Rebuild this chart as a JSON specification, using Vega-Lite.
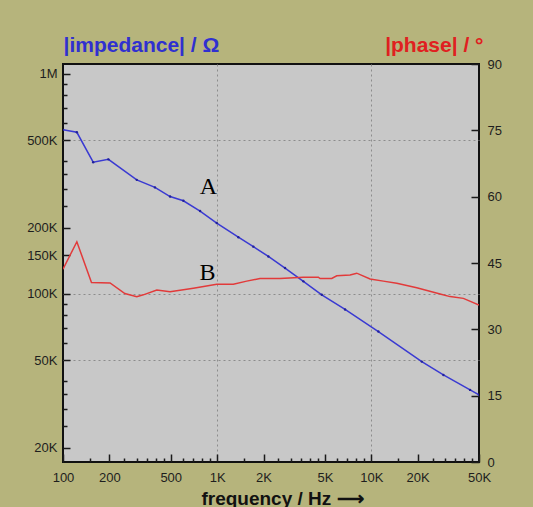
{
  "$schema": "https://vega.github.io/schema/vega-lite/v6.json",
  "autosize": {"type": "none"},
  "width": 416,
  "height": 398,
  "padding": {"left": 63, "top": 64, "right": 54, "bottom": 45},
  "background": "#b6b47c",
  "config": {
    "view": {"fill": "#c8c8c8", "stroke": "#111111", "strokeWidth": 2},
    "axis": {
      "domain": false,
      "zindex": 1,
      "ticks": true,
      "tickColor": "#1a1a1a",
      "tickWidth": 1.5,
      "labelFont": "Liberation Sans",
      "labelFontSize": 13,
      "labelColor": "#1e1e1e",
      "labelOverlap": false,
      "labelBound": false,
      "gridColor": "#8c8c8c",
      "gridDash": [2, 3],
      "gridWidth": 1,
      "titleFont": "Liberation Sans",
      "titleFontWeight": "bold"
    }
  },
  "datasets": {
    "imp": [
      {"freq": 100, "imp": 557000},
      {"freq": 123, "imp": 543000},
      {"freq": 157, "imp": 397000},
      {"freq": 197, "imp": 409000},
      {"freq": 301, "imp": 330000},
      {"freq": 395, "imp": 305000},
      {"freq": 495, "imp": 277000},
      {"freq": 604, "imp": 265000},
      {"freq": 775, "imp": 238000},
      {"freq": 994, "imp": 210000},
      {"freq": 1373, "imp": 181000},
      {"freq": 1718, "imp": 164000},
      {"freq": 2150, "imp": 148000},
      {"freq": 2758, "imp": 131000},
      {"freq": 3627, "imp": 114000},
      {"freq": 4773, "imp": 99000},
      {"freq": 6761, "imp": 85000},
      {"freq": 11120, "imp": 67400},
      {"freq": 21270, "imp": 49200},
      {"freq": 29380, "imp": 42800},
      {"freq": 43760, "imp": 36600},
      {"freq": 50000, "imp": 34700}
    ],
    "phase": [
      {"freq": 100, "phase": 43.6},
      {"freq": 123, "phase": 49.8},
      {"freq": 153, "phase": 40.6},
      {"freq": 202, "phase": 40.5},
      {"freq": 252, "phase": 38.1},
      {"freq": 301, "phase": 37.4},
      {"freq": 332, "phase": 37.8},
      {"freq": 406, "phase": 38.9},
      {"freq": 495, "phase": 38.5},
      {"freq": 701, "phase": 39.3},
      {"freq": 994, "phase": 40.2},
      {"freq": 1274, "phase": 40.2},
      {"freq": 1556, "phase": 40.9},
      {"freq": 1898, "phase": 41.5},
      {"freq": 2559, "phase": 41.5},
      {"freq": 3627, "phase": 41.8},
      {"freq": 4536, "phase": 41.8},
      {"freq": 4653, "phase": 41.5},
      {"freq": 5540, "phase": 41.5},
      {"freq": 5971, "phase": 42.1},
      {"freq": 7286, "phase": 42.3},
      {"freq": 8050, "phase": 42.7},
      {"freq": 9824, "phase": 41.4},
      {"freq": 11980, "phase": 40.9},
      {"freq": 14640, "phase": 40.4},
      {"freq": 19730, "phase": 39.4},
      {"freq": 27960, "phase": 38.0},
      {"freq": 32470, "phase": 37.4},
      {"freq": 39600, "phase": 37.0},
      {"freq": 50000, "phase": 35.5}
    ],
    "labels": [
      {"freq": 877, "imp": 307000, "label": "A"},
      {"freq": 866, "imp": 124600, "label": "B"}
    ]
  },
  "layer": [
    {
      "data": {"name": "imp"},
      "mark": {"type": "line", "opacity": 0, "clip": true},
      "encoding": {
        "x": {
          "field": "freq", "type": "quantitative",
          "scale": {"type": "log", "domain": [100, 50000], "nice": false},
          "axis": {
            "orient": "bottom",
            "values": [1000, 10000],
            "ticks": false,
            "labels": false,
            "grid": true,
            "title": null
          }
        },
        "y": {
          "field": "imp", "type": "quantitative",
          "scale": {"type": "log", "domain": [17200, 1110000], "nice": false},
          "axis": {
            "orient": "left",
            "values": [50000, 100000, 500000],
            "ticks": false,
            "labels": false,
            "grid": true,
            "title": null
          }
        }
      }
    },
    {
      "data": {"name": "imp"},
      "mark": {"type": "line", "color": "#3a3ad2", "strokeWidth": 1.5, "clip": true, "point": {"filled": true, "size": 6, "color": "#22229a"}},
      "encoding": {
        "x": {
          "field": "freq", "type": "quantitative",
          "scale": {"type": "log", "domain": [100, 50000], "nice": false},
          "axis": {
            "orient": "bottom",
            "offset": -8,
            "values": [100, 200, 500, 1000, 2000, 5000, 10000, 20000, 50000],
            "labelExpr": "datum.value >= 1000 ? format(datum.value/1000, 'd') + 'K' : format(datum.value, 'd')",
            "tickSize": 8,
            "labelPadding": 9,
            "labelBaseline": "top",
            "labelFlush": false,
            "grid": false,
            "title": "frequency / Hz ⟶",
            "titleFontSize": 19,
            "titleColor": "#111111",
            "titleX": 219,
            "titleY": 44,
            "titleAlign": "center",
            "titleBaseline": "middle"
          }
        },
        "y": {
          "field": "imp", "type": "quantitative",
          "scale": {"type": "log", "domain": [17200, 1110000], "nice": false},
          "axis": {
            "orient": "left",
            "offset": -7,
            "values": [20000, 50000, 100000, 150000, 200000, 500000, 1000000],
            "labelExpr": "datum.value >= 1000000 ? '1M' : format(datum.value/1000, 'd') + 'K'",
            "tickSize": 7,
            "labelPadding": 6,
            "grid": false,
            "title": "|impedance| / Ω",
            "titleColor": "#3030d0",
            "titleFontSize": 21,
            "titleAngle": 0,
            "titleAlign": "left",
            "titleBaseline": "middle",
            "titleX": -7,
            "titleY": -19
          }
        }
      }
    },
    {
      "data": {"name": "phase"},
      "mark": {"type": "line", "color": "#e23a3a", "strokeWidth": 1.5, "clip": true},
      "encoding": {
        "x": {
          "field": "freq", "type": "quantitative",
          "scale": {"type": "log", "domain": [100, 50000], "nice": false},
          "axis": {
            "orient": "bottom",
            "offset": -4,
            "values": [150,250,300,350,400,450,600,700,800,900,1500,2500,3000,3500,4000,4500,6000,7000,8000,9000,15000,25000,30000,35000,40000,45000],
            "tickSize": 4,
            "labels": false,
            "grid": false,
            "title": null
          }
        },
        "y": {
          "field": "phase", "type": "quantitative",
          "scale": {"domain": [0, 90], "nice": false, "zero": true},
          "axis": {
            "orient": "right",
            "offset": -8,
            "values": [0, 15, 30, 45, 60, 75, 90],
            "tickSize": 8,
            "labelPadding": 8,
            "grid": false,
            "title": "|phase|   /   °",
            "titleColor": "#e02020",
            "titleFontSize": 21,
            "titleAngle": 0,
            "titleAlign": "right",
            "titleBaseline": "middle",
            "titleX": 12,
            "titleY": -19
          }
        }
      }
    },
    {
      "data": {"name": "labels"},
      "mark": {"type": "text", "font": "Liberation Serif", "fontSize": 24, "color": "#000000"},
      "encoding": {
        "x": {"field": "freq", "type": "quantitative", "scale": {"type": "log", "domain": [100, 50000], "nice": false}, "axis": null},
        "y": {
          "field": "imp", "type": "quantitative",
          "scale": {"type": "log", "domain": [17200, 1110000], "nice": false},
          "axis": {
            "orient": "left",
            "offset": -4,
            "values": [25000,30000,35000,40000,60000,70000,80000,90000,250000,300000,350000,400000,600000,700000,800000,900000],
            "tickSize": 4,
            "labels": false,
            "grid": false,
            "title": null
          }
        },
        "text": {"field": "label"}
      }
    }
  ],
  "resolve": {"scale": {"y": "independent"}, "axis": {"x": "independent", "y": "independent"}}
}
